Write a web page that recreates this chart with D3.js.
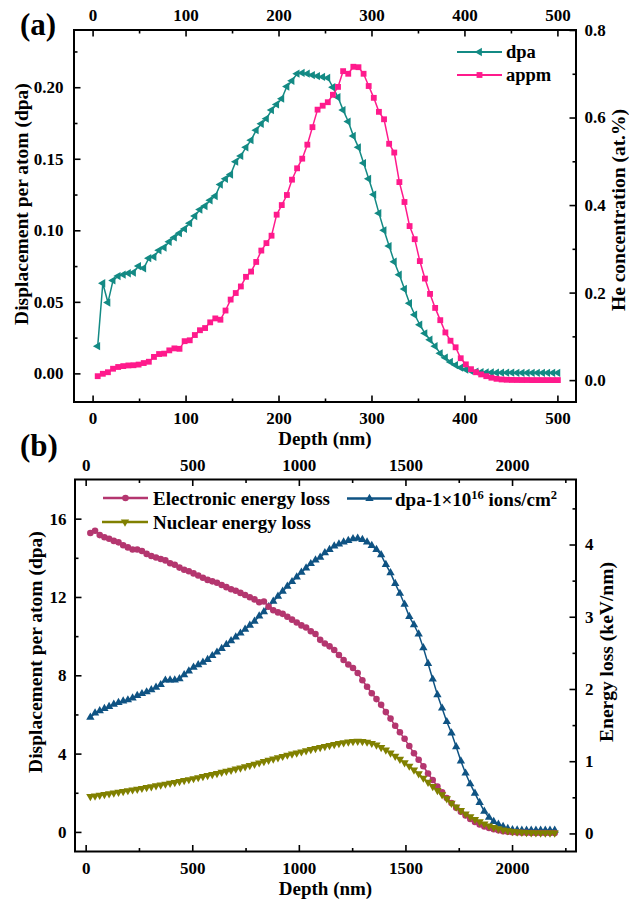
<!DOCTYPE html>
<html>
<head>
<meta charset="utf-8">
<script src="https://cdn.jsdelivr.net/npm/d3@7"></script>
<style>
  html, body { margin: 0; padding: 0; background: #fff; }
  svg text { font-family: "Liberation Serif", "Times New Roman", serif; font-weight: bold; fill: #000; }
</style>
</head>
<body>
<svg id="chart" width="629" height="901"></svg>
<script>
// ---------- Panel (a): 5.5 nm depth bins ----------
const depthA = [
  5.5, 11, 16.5, 22, 27.5, 33, 38.5, 44, 49.5, 55,
  60.5, 66, 71.5, 77, 82.5, 88, 93.5, 99, 104.5, 110,
  115.5, 121, 126.5, 132, 137.5, 143, 148.5, 154, 159.5, 165,
  170.5, 176, 181.5, 187, 192.5, 198, 203.5, 209, 214.5, 220,
  225.5, 231, 236.5, 242, 247.5, 253, 258.5, 264, 269.5, 275,
  280.5, 286, 291.5, 297, 302.5, 308, 313.5, 319, 324.5, 330,
  335.5, 341, 346.5, 352, 357.5, 363, 368.5, 374, 379.5, 385,
  390.5, 396, 401.5, 407, 412.5, 418, 423.5, 429, 434.5, 440,
  445.5, 451, 456.5, 462, 467.5, 473, 478.5, 484, 489.5, 495,
  500.5
];
// displacement per atom (left axis)
const dpaA = [
  0.019, 0.063, 0.0495, 0.065, 0.068, 0.069, 0.070, 0.0705, 0.075, 0.0735,
  0.0805, 0.0815, 0.086, 0.088, 0.092, 0.095, 0.098, 0.101, 0.105, 0.110,
  0.1145, 0.117, 0.121, 0.124, 0.132, 0.136, 0.139, 0.148, 0.152, 0.158,
  0.163, 0.170, 0.1745, 0.178, 0.184, 0.188, 0.192, 0.2005, 0.2045, 0.2095,
  0.210, 0.2095, 0.2085, 0.2078, 0.2072, 0.2065, 0.200, 0.193, 0.184, 0.176,
  0.166, 0.158, 0.147, 0.136, 0.125, 0.112, 0.100, 0.089, 0.078, 0.069,
  0.059, 0.049, 0.041, 0.034, 0.028, 0.0235, 0.019, 0.014, 0.011, 0.008,
  0.0058, 0.004, 0.0027, 0.0018, 0.0012, 0.0009, 0.0007, 0.0006, 0.0005, 0.0005,
  0.0005, 0.0005, 0.0004, 0.0004, 0.0004, 0.0004, 0.0004, 0.0004, 0.0004, 0.0004,
  0.0004
];
// He concentration, at.% (right axis)
const appmA = [
  0.009, 0.0145, 0.018, 0.026, 0.030, 0.032, 0.0335, 0.034, 0.0355, 0.039,
  0.042, 0.053, 0.0596, 0.0605, 0.068, 0.0725, 0.0715, 0.089, 0.091, 0.103,
  0.114, 0.119, 0.132, 0.141, 0.138, 0.159, 0.184, 0.199, 0.214, 0.236,
  0.248, 0.270, 0.296, 0.313, 0.330, 0.378, 0.400, 0.423, 0.458, 0.484,
  0.506, 0.538, 0.578, 0.618, 0.627, 0.635, 0.652, 0.670, 0.706, 0.700,
  0.716, 0.715, 0.700, 0.672, 0.645, 0.613, 0.596, 0.540, 0.520, 0.4525,
  0.407, 0.352, 0.322, 0.272, 0.232, 0.197, 0.165, 0.137, 0.109, 0.090,
  0.075, 0.050, 0.036, 0.025, 0.018, 0.013, 0.009, 0.0055, 0.003, 0.0015,
  0.0008, 0.0004, 0.0003, 0.0002, 0.0002, 0.0001, 0.0001, 0.0001, 0.0001, 0.0001,
  0.0001
];
const xTicksA = [0, 100, 200, 300, 400, 500];
const xMinorA = [50, 150, 250, 350, 450];
const yTicksAL = [0, 0.05, 0.10, 0.15, 0.20];
const yMinorAL = [0.025, 0.075, 0.125, 0.175, 0.225];
const yTicksAR = [0, 0.2, 0.4, 0.6, 0.8];
const yMinorAR = [0.1, 0.3, 0.5, 0.7];

// ---------- Panel (b): 22 nm depth bins ----------
const depthB = [
  22, 44, 66, 88, 110, 132, 154, 176, 198, 220,
  242, 264, 286, 308, 330, 352, 374, 396, 418, 440,
  462, 484, 506, 528, 550, 572, 594, 616, 638, 660,
  682, 704, 726, 748, 770, 792, 814, 836, 858, 880,
  902, 924, 946, 968, 990, 1012, 1034, 1056, 1078, 1100,
  1122, 1144, 1166, 1188, 1210, 1232, 1254, 1276, 1298, 1320,
  1342, 1364, 1386, 1408, 1430, 1452, 1474, 1496, 1518, 1540,
  1562, 1584, 1606, 1628, 1650, 1672, 1694, 1716, 1738, 1760,
  1782, 1804, 1826, 1848, 1870, 1892, 1914, 1936, 1958, 1980,
  2002, 2024, 2046, 2068, 2090, 2112, 2134, 2156, 2178, 2200
];
// dpa at 1e16 ions/cm2 (left axis)
const dpaB = [
  5.85, 6.07, 6.19, 6.30, 6.40, 6.52, 6.61, 6.68, 6.74, 6.84,
  6.96, 7.06, 7.15, 7.26, 7.38, 7.52, 7.75, 7.76, 7.76, 7.82,
  8.02, 8.22, 8.41, 8.53, 8.66, 8.80, 9.00, 9.18, 9.36, 9.57,
  9.76, 9.95, 10.15, 10.35, 10.55, 10.76, 11.02, 11.24, 11.50, 11.78,
  12.03, 12.29, 12.54, 12.78, 13.02, 13.26, 13.48, 13.70, 13.88, 14.02,
  14.25, 14.42, 14.60, 14.70, 14.80, 14.88, 14.97, 15.00, 14.93, 14.80,
  14.62, 14.42, 14.15, 13.65, 13.23, 12.68, 12.18, 11.62, 11.00, 10.58,
  10.10, 9.40, 8.60, 7.80, 7.00, 6.32, 5.63, 5.05, 4.35, 3.62,
  3.00, 2.45, 1.97, 1.50, 1.05, 0.74, 0.53, 0.39, 0.27, 0.17,
  0.11, 0.09, 0.08, 0.08, 0.08, 0.08, 0.08, 0.08, 0.08, 0.08
];
// electronic energy loss, keV/nm (right axis)
const elecB = [
  4.16, 4.19, 4.13, 4.10, 4.08, 4.05, 4.03, 3.99, 3.96, 3.93,
  3.93, 3.91, 3.87, 3.84, 3.82, 3.80, 3.78, 3.74, 3.72, 3.68,
  3.65, 3.63, 3.60, 3.57, 3.54, 3.51, 3.49, 3.47, 3.44, 3.41,
  3.38, 3.36, 3.33, 3.30, 3.27, 3.24, 3.20, 3.21, 3.14, 3.09,
  3.06, 3.04, 3.00, 2.96, 2.92, 2.88, 2.85, 2.80, 2.76, 2.68,
  2.63, 2.59, 2.54, 2.47, 2.40, 2.34, 2.29, 2.22, 2.12, 2.03,
  1.94, 1.86, 1.78, 1.68, 1.59, 1.49, 1.40, 1.31, 1.21, 1.11,
  1.02, 0.93, 0.83, 0.74, 0.65, 0.57, 0.49, 0.42, 0.355, 0.30,
  0.25, 0.20, 0.16, 0.125, 0.097, 0.075, 0.057, 0.043, 0.032, 0.024,
  0.018, 0.013, 0.010, 0.008, 0.006, 0.006, 0.005, 0.005, 0.005, 0.005
];
// nuclear energy loss, keV/nm (right axis)
const nucB = [
  0.512, 0.52, 0.53, 0.54, 0.55, 0.56, 0.572, 0.583, 0.594, 0.604,
  0.614, 0.625, 0.636, 0.648, 0.66, 0.672, 0.684, 0.695, 0.707, 0.72,
  0.733, 0.746, 0.76, 0.774, 0.788, 0.802, 0.817, 0.832, 0.847, 0.862,
  0.877, 0.892, 0.908, 0.925, 0.942, 0.96, 0.978, 0.996, 1.014, 1.032,
  1.05, 1.068, 1.085, 1.10, 1.115, 1.13, 1.146, 1.162, 1.178, 1.192,
  1.206, 1.218, 1.232, 1.246, 1.258, 1.268, 1.275, 1.278, 1.275, 1.265,
  1.248, 1.225, 1.19, 1.155, 1.115, 1.07, 1.027, 0.98, 0.933, 0.88,
  0.826, 0.767, 0.71, 0.652, 0.595, 0.538, 0.48, 0.42, 0.368, 0.318,
  0.272, 0.232, 0.195, 0.162, 0.132, 0.106, 0.083, 0.065, 0.05, 0.038,
  0.029, 0.022, 0.017, 0.013, 0.011, 0.009, 0.008, 0.007, 0.006, 0.006
];
const xTicksB = [0, 500, 1000, 1500, 2000];
const xMinorB = [250, 750, 1250, 1750, 2250];
const yTicksBL = [0, 4, 8, 12, 16];
const yMinorBL = [2, 6, 10, 14];
const yTicksBR = [0, 1, 2, 3, 4];
const yMinorBR = [0.5, 1.5, 2.5, 3.5, 4.5];

// ---------- colours ----------
const C_TEAL = "#138A84";
const C_PINK = "#FF1A8C";
const C_ELEC = "#B4366F";
const C_NUC  = "#808000";
const C_BLUE = "#0F5383";

const svg = d3.select("#chart");
const TICK_FONT = "17px";

// draws one axis: major ticks with labels, minor ticks without, all pointing inward
function drawAxis(gen, scale, major, minor, fmt, pad, tx, ty) {
  const g = svg.append("g").attr("transform", `translate(${tx},${ty})`);
  g.append("g").call(gen(scale).tickValues(minor).tickSize(-3.5).tickFormat(""));
  g.append("g").call(gen(scale).tickValues(major).tickSize(-6.5).tickPadding(pad).tickFormat(fmt));
  g.selectAll(".domain").remove();
  g.selectAll(".tick line").attr("stroke", "#000").attr("stroke-width", 1.6);
  g.selectAll(".tick text").style("font-size", TICK_FONT).attr("fill", "#000");
  return g;
}

function frame(x0, y0, x1, y1) {
  svg.append("rect").attr("x", x0).attr("y", y0).attr("width", x1 - x0).attr("height", y1 - y0)
    .attr("fill", "none").attr("stroke", "#000").attr("stroke-width", 2);
}

function series(xs, ys, xScale, yScale, color, symType, rot, size, lw) {
  const pts = xs.map((d, i) => [d, ys[i]]);
  svg.append("path").datum(pts)
    .attr("fill", "none").attr("stroke", color).attr("stroke-width", lw)
    .attr("d", d3.line().x(p => xScale(p[0])).y(p => yScale(p[1])));
  const sym = d3.symbol().type(symType).size(size)();
  svg.append("g").selectAll("path").data(pts).join("path")
    .attr("d", sym).attr("fill", color)
    .attr("transform", p => `translate(${xScale(p[0])},${yScale(p[1])}) rotate(${rot})`);
}

function legendItem(x0, x1, y, color, symType, rot, size, lw) {
  svg.append("line").attr("x1", x0).attr("x2", x1).attr("y1", y).attr("y2", y)
    .attr("stroke", color).attr("stroke-width", lw);
  svg.append("path").attr("d", d3.symbol().type(symType).size(size)()).attr("fill", color)
    .attr("transform", `translate(${(x0 + x1) / 2},${y}) rotate(${rot})`);
}

function rotLabel(x, y, text, size) {
  svg.append("text").attr("transform", `translate(${x},${y}) rotate(-90)`)
    .attr("text-anchor", "middle").style("font-size", size).text(text);
}

// ================= Panel (a) =================
const A = { l: 74, r: 576, t: 30, b: 402 };
const xA = d3.scaleLinear().domain([-20, 520]).range([A.l, A.r]);
const yAL = d3.scaleLinear().domain([-0.02, 0.24]).range([A.b, A.t]);
const yAR = d3.scaleLinear().domain([-0.05, 0.8]).range([A.b, A.t]);

drawAxis(d3.axisBottom, xA, xTicksA, xMinorA, d3.format("d"), 9.5, 0, A.b);
drawAxis(d3.axisTop, xA, xTicksA, xMinorA, d3.format("d"), 9.5, 0, A.t);
drawAxis(d3.axisLeft, yAL, yTicksAL, yMinorAL, d3.format(".2f"), 10.5, A.l, 0);
drawAxis(d3.axisRight, yAR, yTicksAR, yMinorAR, d3.format(".1f"), 8.5, A.r, 0);

series(depthA, dpaA, xA, yAL, C_TEAL, d3.symbolTriangle, -90, 30, 1.5);
series(depthA, appmA, xA, yAR, C_PINK, d3.symbolSquare, 0, 34, 1.5);
frame(A.l, A.t, A.r, A.b);

legendItem(457, 502, 52, C_TEAL, d3.symbolTriangle, -90, 30, 2);
legendItem(457, 502, 75, C_PINK, d3.symbolSquare, 0, 34, 2);
svg.append("text").attr("x", 506).attr("y", 57.5).style("font-size", "18.5px").text("dpa");
svg.append("text").attr("x", 506).attr("y", 80.5).style("font-size", "18.5px").text("appm");

svg.append("text").attr("x", 20).attr("y", 35).style("font-size", "31px").text("(a)");
svg.append("text").attr("x", (A.l + A.r) / 2).attr("y", 445).attr("text-anchor", "middle")
  .style("font-size", "19px").text("Depth (nm)");
rotLabel(28, 204, "Displacement per atom (dpa)", "19.5px");
rotLabel(624.5, 210, "He concentration (at.%)", "19.5px");

// ================= Panel (b) =================
const B = { l: 75, r: 576, t: 479.5, b: 851.5 };
const xB = d3.scaleLinear().domain([-50, 2300]).range([B.l, B.r]);
const yBL = d3.scaleLinear().domain([-1, 18]).range([B.b, B.t]);
const yBR = d3.scaleLinear().domain([-0.25, 4.9]).range([B.b, B.t]);

drawAxis(d3.axisBottom, xB, xTicksB, xMinorB, d3.format("d"), 10.5, 0, B.b);
drawAxis(d3.axisTop, xB, xTicksB, xMinorB, d3.format("d"), 8.7, 0, B.t);
drawAxis(d3.axisLeft, yBL, yTicksBL, yMinorBL, d3.format("d"), 8.5, B.l, 0);
drawAxis(d3.axisRight, yBR, yTicksBR, yMinorBR, d3.format("d"), 9, B.r, 0);

series(depthB, dpaB, xB, yBL, C_BLUE, d3.symbolTriangle, 0, 30, 1.5);
series(depthB, elecB, xB, yBR, C_ELEC, d3.symbolCircle, 0, 34, 1.5);
series(depthB, nucB, xB, yBR, C_NUC, d3.symbolTriangle, 180, 30, 1.5);
frame(B.l, B.t, B.r, B.b);

legendItem(103, 148, 498, C_ELEC, d3.symbolCircle, 0, 34, 2.5);
legendItem(102, 148, 522, C_NUC, d3.symbolTriangle, 180, 30, 2.5);
legendItem(347, 392, 498.5, C_BLUE, d3.symbolTriangle, 0, 30, 2.5);
svg.append("text").attr("x", 153).attr("y", 505).style("font-size", "19px").text("Electronic energy loss");
svg.append("text").attr("x", 153).attr("y", 528.5).style("font-size", "19px").text("Nuclear energy loss");
const lt = svg.append("text").attr("x", 395).attr("y", 505.5).style("font-size", "19px");
lt.append("tspan").text("dpa-1\u00D710");
lt.append("tspan").attr("dy", -7).style("font-size", "12.5px").text("16");
lt.append("tspan").attr("dy", 7).text(" ions/cm");
lt.append("tspan").attr("dy", -7).style("font-size", "12.5px").text("2");

svg.append("text").attr("x", 20).attr("y", 456).style("font-size", "31px").text("(b)");
svg.append("text").attr("x", (B.l + B.r) / 2).attr("y", 895).attr("text-anchor", "middle")
  .style("font-size", "19px").text("Depth (nm)");
rotLabel(42, 652, "Displacement per atom (dpa)", "19.5px");
rotLabel(613, 652, "Energy loss (keV/nm)", "19.5px");
</script>
</body>
</html>
